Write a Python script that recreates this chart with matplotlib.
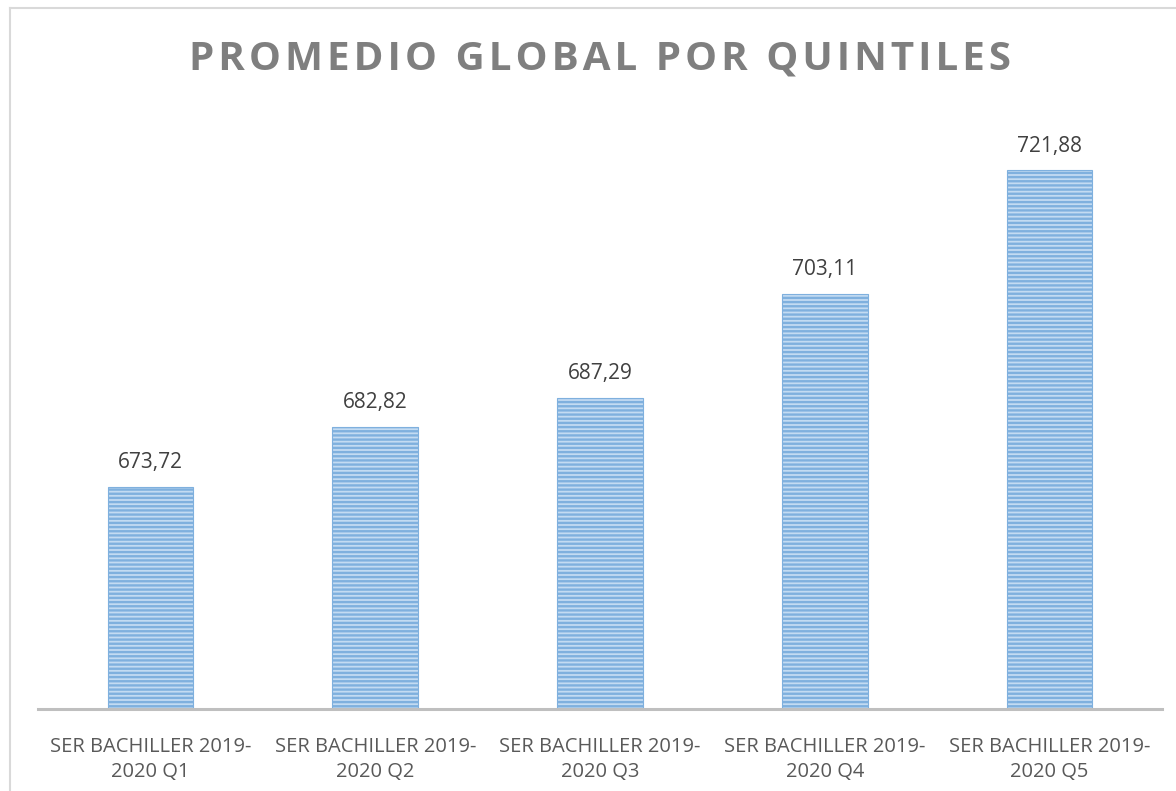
import matplotlib
matplotlib.use("Agg")
import matplotlib.pyplot as plt

categories = ["SER BACHILLER 2019-\n2020 Q1", "SER BACHILLER 2019-\n2020 Q2",
              "SER BACHILLER 2019-\n2020 Q3", "SER BACHILLER 2019-\n2020 Q4",
              "SER BACHILLER 2019-\n2020 Q5"]
values = [673.72, 682.82, 687.29, 703.11, 721.88]
title = "PROMEDIO GLOBAL POR QUINTILES"

plt.rcParams['font.family'] = ['Open Sans', 'DejaVu Sans']
plt.rcParams['hatch.color'] = '#5b9bd5'
plt.rcParams['hatch.linewidth'] = 1.7

fig = plt.figure(figsize=(11.76, 7.91), dpi=100)
ax = fig.add_axes([38 / 1176, 1 - 709 / 791, (1162 - 38) / 1176, (709 - 117) / 791])

x = list(range(len(categories)))
ax.bar(x, values, width=0.38, color='#c3dbf2', edgecolor='#7fb0de',
       hatch='----', linewidth=0.8, zorder=2)

for xi, v in zip(x, values):
    ax.annotate(f"{v:.2f}".replace('.', ','), (xi, v), xytext=(0, 10),
                textcoords='offset points', ha='center', va='bottom',
                fontsize=15, color='#404040')

ax.set_xlim(-0.5, len(categories) - 0.5)
ax.set_ylim(640, 730)
ax.set_xticks(x)
ax.set_xticklabels(categories, fontsize=14.5, color='#595959', linespacing=1.35)
ax.tick_params(axis='x', length=0, pad=20)
ax.set_yticks([])
for s in ['top', 'right', 'left']:
    ax.spines[s].set_visible(False)
ax.spines['bottom'].set_color('#bfbfbf')
ax.spines['bottom'].set_linewidth(2.2)

# chart border (top and left visible)
fig.add_artist(plt.Line2D([10 / 1176, 10 / 1176], [0, 1 - 8 / 791],
                          color='#d9d9d9', lw=1.5, transform=fig.transFigure))
fig.add_artist(plt.Line2D([10 / 1176, 1], [1 - 8 / 791, 1 - 8 / 791],
                          color='#d9d9d9', lw=1.5, transform=fig.transFigure))

fig.text(600 / 1176, 1 - 59 / 791, "\u200a".join(title), ha='center', va='center',
         fontsize=29, fontweight='bold', color='#7f7f7f')

fig.savefig("out.png", dpi=100)
